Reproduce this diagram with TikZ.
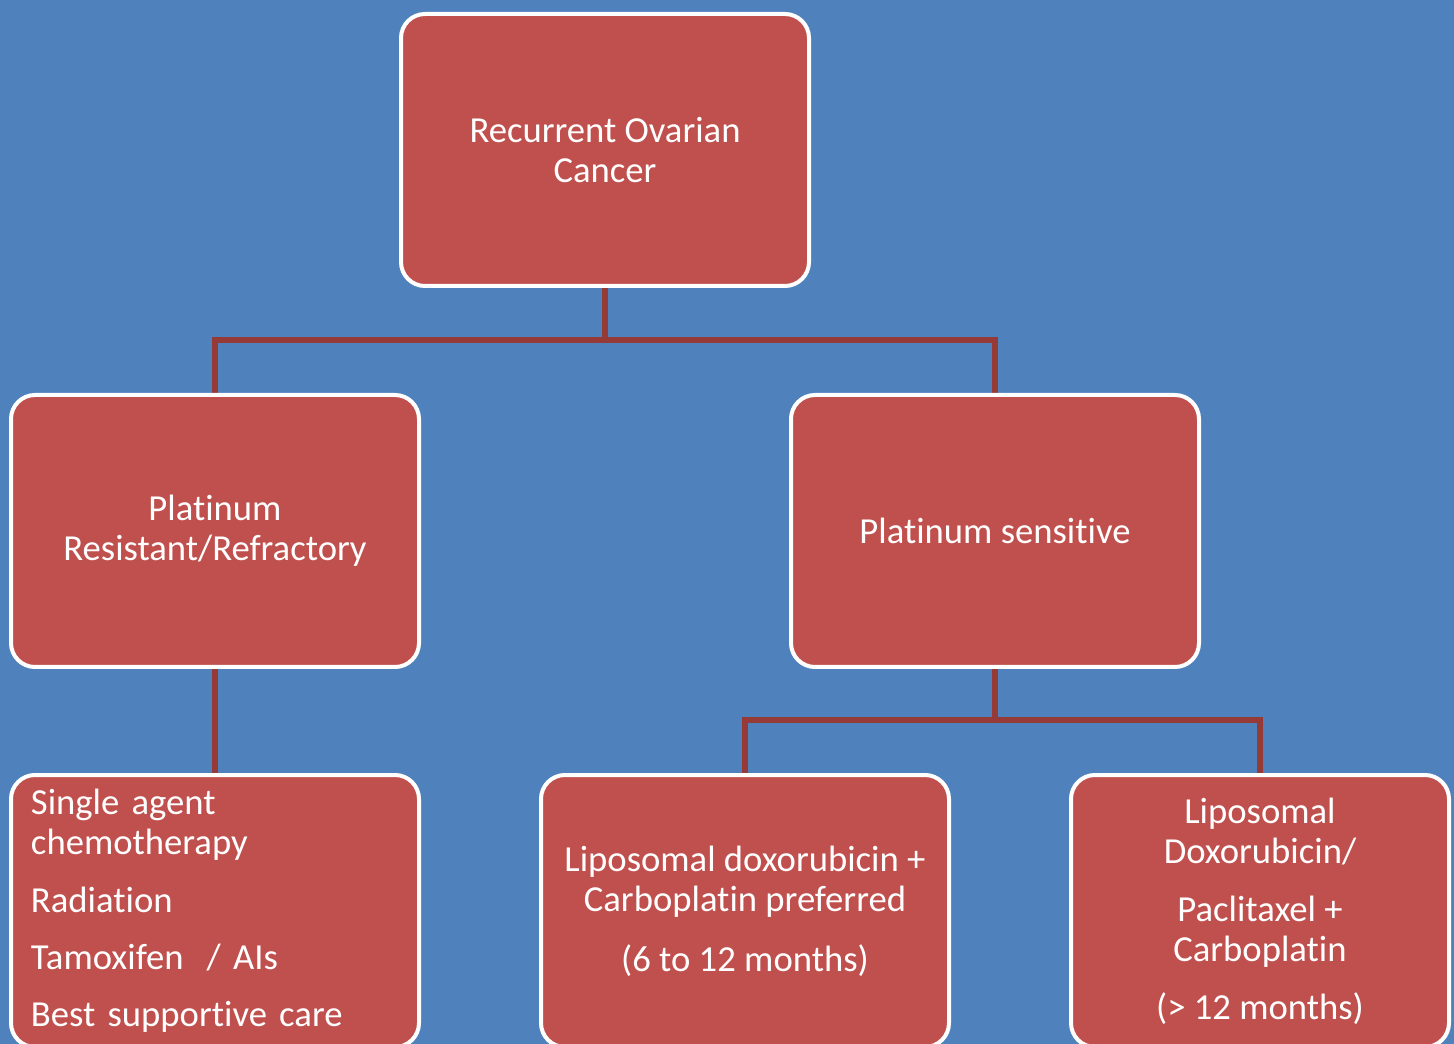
\documentclass[tikz,border=0pt]{standalone}
\usepackage{fontspec}
\setmainfont{Carlito}[Ligatures=NoCommon]
\usetikzlibrary{backgrounds}
\definecolor{bgblue}{HTML}{4F81BD}
\definecolor{boxred}{HTML}{C0504D}
\definecolor{connred}{HTML}{963A38}
\tikzset{
  box/.style={rectangle, rounded corners=18pt, fill=boxred, draw=white, line width=3pt,
    minimum width=306pt, minimum height=204pt, inner sep=0pt, text=white,
    font=\fontsize{27.5}{30}\selectfont, align=center},
  conn/.style={draw=connred, line width=4pt}
}
\begin{document}
\begin{tikzpicture}[x=0.75pt,y=-0.75pt]
\useasboundingbox (0,0) rectangle (1454,1044);
\clip (0,0) rectangle (1454,1044);
\node[box] (top) at (605,150) {Recurrent Ovarian\\Cancer};
\node[box] (res) at (215,531) {Platinum\\Resistant/Refractory};
\node[box] (sen) at (995,531) {Platinum sensitive};
\node[box, text width=276pt, inner xsep=15pt, align=left] (bl) at (215,911)
  {Single agent\\chemotherapy\\[13pt]Radiation\\[13pt]Tamoxifen\hspace{0.3em}\ / AIs\\[13pt]Best supportive care};
\node[box] (bm) at (745,911) {Liposomal doxorubicin +\\Carboplatin preferred\\[15pt](6 to 12 months)};
\node[box, minimum width=283.5pt] (br) at (1260,911) {Liposomal\\Doxorubicin/\\[13.5pt]Paclitaxel +\\Carboplatin\\[13.5pt](> 12 months)};
\begin{scope}[on background layer]
  \fill[bgblue] (0,0) rectangle (1454,1044);
  \coordinate (j1) at (605,340);
  \coordinate (j2) at (995,720);
  \draw[conn] (top.south) -- (j1);
  \draw[conn, line cap=rect] (j1) -| (res.north);
  \draw[conn, line cap=rect] (j1) -| (sen.north);
  \draw[conn] (res.south) -- (bl.north);
  \draw[conn] (sen.south) -- (j2);
  \draw[conn] (j2) -| (bm.north);
  \draw[conn] (j2) -| (br.north);
\end{scope}
\end{tikzpicture}
\end{document}
